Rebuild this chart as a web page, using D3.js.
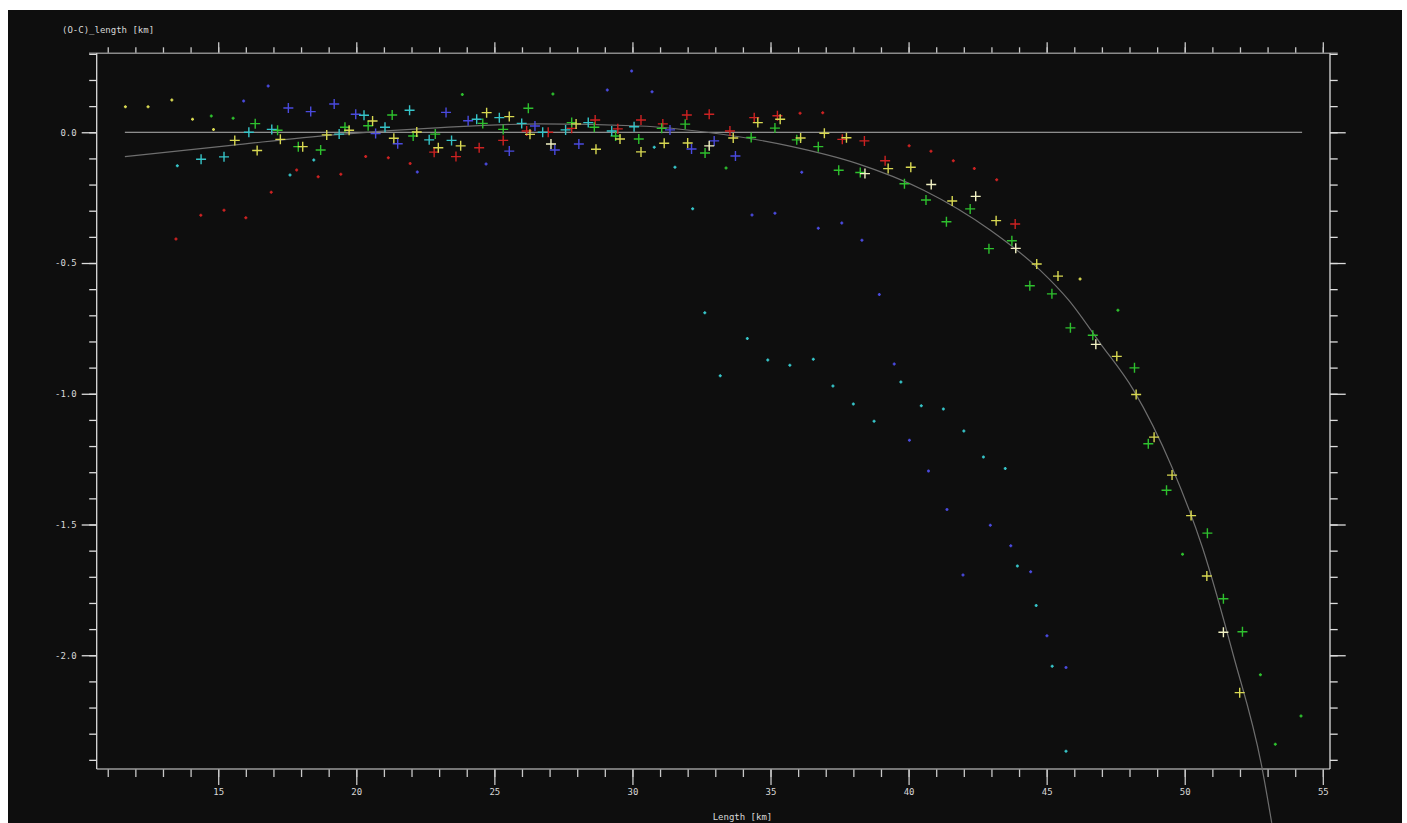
<!DOCTYPE html>
<html>
<head>
<meta charset="utf-8">
<script src="https://cdn.jsdelivr.net/npm/d3@7"></script>
<style>
  html, body { margin: 0; padding: 0; background: #ffffff; }
  svg { display: block; }
  text { font-family: "DejaVu Sans Mono", "Liberation Mono", monospace; font-size: 9px; fill: #d8d8d8; }
</style>
</head>
<body>
<svg id="chart" width="1407" height="823"></svg>
<script>
// ---- axis settings ----
const xDomain = [10.6, 55.26];
const yDomain = [0.302, -2.435];
const xMajorTicks = [15, 20, 25, 30, 35, 40, 45, 50, 55];
const yMajorTicks = [0.0, -0.5, -1.0, -1.5, -2.0];
const xTitle = "Length [km]";
const yTitle = "(O-C)_length [km]";

// ---- fitted curve (km, km) ----
const fitCurve = [
  [11.62, -0.093], [15.55, -0.049], [19.17, -0.010], [23.20, 0.019], [26.65, 0.032],
  [30.27, 0.024], [32.69, 0.000], [35.70, -0.053], [38.12, -0.119], [40.53, -0.221],
  [42.95, -0.374], [44.76, -0.527], [45.79, -0.641], [46.94, -0.807], [48.14, -0.985],
  [49.53, -1.279], [50.65, -1.591], [51.76, -2.000], [52.79, -2.426], [53.15, -2.641]
];
const zeroLine = [11.62, 54.25];

// ---- station residuals: crosses (used) and dots (rejected) ----
const redCross = [
  [22.82,-0.076],[23.61,-0.093],[24.45,-0.059],[25.32,-0.031],[26.17,0.005],[26.95,0.000],
  [27.80,0.015],[28.65,0.047],[29.47,0.013],[30.31,0.047],[31.10,0.032],[31.97,0.066],
  [32.78,0.069],[33.53,0.005],[34.41,0.056],[35.25,0.063],[37.60,-0.027],[38.40,-0.033],
  [39.15,-0.109],[43.86,-0.351]
];
const redDot = [
  [13.47,-0.408],[14.37,-0.317],[15.21,-0.298],[16.00,-0.327],[16.92,-0.229],[17.84,-0.144],
  [18.62,-0.170],[19.44,-0.161],[20.34,-0.093],[21.16,-0.097],[21.95,-0.119],[36.07,0.073],
  [36.89,0.075],[40.02,-0.052],[40.81,-0.073],[41.62,-0.109],[42.38,-0.139],[43.19,-0.182]
];
const greenCross = [
  [16.34,0.033],[17.15,0.008],[17.90,-0.055],[18.71,-0.068],[19.59,0.019],[20.43,0.025],
  [21.30,0.066],[22.06,-0.014],[22.86,-0.007],[24.58,0.034],[25.32,0.011],[26.23,0.092],
  [27.80,0.037],[28.62,0.019],[29.39,-0.014],[30.23,-0.026],[31.06,0.015],[31.91,0.031],
  [32.63,-0.079],[34.30,-0.020],[35.16,0.016],[35.95,-0.029],[36.73,-0.055],[37.47,-0.145],
  [38.25,-0.154],[39.85,-0.197],[40.63,-0.259],[41.37,-0.342],[42.23,-0.293],[42.91,-0.445],
  [43.74,-0.415],[44.39,-0.587],[45.19,-0.618],[45.86,-0.748],[46.67,-0.776],[48.18,-0.901],
  [48.68,-1.191],[49.34,-1.369],[50.82,-1.533],[51.40,-1.784],[52.09,-1.910]
];
const greenDot = [
  [14.75,0.062],[15.54,0.054],[23.84,0.144],[27.12,0.146],[33.39,-0.137],[47.58,-0.681],
  [49.92,-1.614],[52.74,-2.075],[53.28,-2.340],[54.21,-2.232]
];
const blueCross = [
  [17.54,0.093],[18.35,0.079],[19.20,0.108],[19.98,0.069],[20.70,-0.005],[21.50,-0.044],
  [23.25,0.076],[24.05,0.044],[25.54,-0.072],[26.47,0.024],[27.19,-0.068],[28.06,-0.045],
  [31.36,0.009],[32.14,-0.064],[32.96,-0.033],[33.73,-0.091]
];
const blueDot = [
  [15.92,0.120],[16.81,0.177],[22.21,-0.152],[24.70,-0.121],[29.09,0.162],[29.97,0.234],
  [30.71,0.155],[34.33,-0.316],[35.16,-0.310],[36.13,-0.153],[36.73,-0.367],[37.58,-0.347],
  [38.31,-0.413],[38.94,-0.620],[39.48,-0.886],[40.03,-1.178],[40.72,-1.295],[41.39,-1.443],
  [41.97,-1.693],[42.96,-1.503],[43.70,-1.581],[44.42,-1.681],[45.01,-1.925],[45.70,-2.047]
];
const cyanCross = [
  [14.38,-0.103],[15.21,-0.094],[16.11,0.000],[16.94,0.011],[19.38,-0.007],[20.28,0.065],
  [21.04,0.019],[21.93,0.084],[22.64,-0.029],[23.45,-0.031],[24.36,0.050],[25.18,0.056],
  [25.99,0.034],[26.75,0.000],[27.58,0.009],[28.40,0.037],[29.25,0.005],[30.06,0.021]
];
const cyanDot = [
  [13.52,-0.128],[17.60,-0.163],[18.46,-0.106],[30.79,-0.057],[31.54,-0.134],[32.18,-0.292],
  [32.62,-0.690],[33.18,-0.931],[34.16,-0.789],[34.90,-0.871],[35.70,-0.891],[36.55,-0.868],
  [37.26,-0.970],[38.00,-1.039],[38.75,-1.105],[39.72,-0.955],[40.46,-1.046],[41.26,-1.058],
  [42.00,-1.142],[42.71,-1.242],[43.50,-1.286],[43.94,-1.659],[44.62,-1.810],[45.20,-2.042],
  [45.70,-2.367]
];
const yellowCross = [
  [15.60,-0.031],[16.41,-0.070],[17.25,-0.027],[18.06,-0.055],[18.93,-0.010],[19.74,0.008],
  [20.59,0.043],[21.36,-0.023],[22.19,0.001],[22.97,-0.059],[23.78,-0.052],[24.72,0.075],
  [25.54,0.060],[26.29,-0.008],[27.96,0.032],[28.68,-0.065],[29.55,-0.026],[30.31,-0.075],
  [31.15,-0.042],[32.00,-0.041],[33.65,-0.022],[34.54,0.037],[35.35,0.050],[36.09,-0.022],
  [36.95,-0.004],[37.75,-0.021],[39.26,-0.139],[40.08,-0.134],[41.58,-0.263],[43.17,-0.338],
  [44.64,-0.504],[45.41,-0.550],[47.54,-0.857],[48.24,-1.003],[48.89,-1.166],[49.54,-1.311],
  [50.23,-1.466],[50.80,-1.697],[51.99,-2.143]
];
const yellowDot = [
  [11.64,0.098],[12.46,0.098],[13.32,0.123],[14.07,0.050],[14.83,0.011],[46.21,-0.561]
];
const whiteCross = [
  [27.05,-0.045],[32.78,-0.052],[38.42,-0.158],[40.82,-0.200],[42.43,-0.245],[43.88,-0.444],
  [46.78,-0.811],[51.40,-1.912]
];

const series = [
  { name: "red",    color: "#cc2222", cross: redCross,    dot: redDot },
  { name: "green",  color: "#2ec02e", cross: greenCross,  dot: greenDot },
  { name: "blue",   color: "#4a4ade", cross: blueCross,   dot: blueDot },
  { name: "cyan",   color: "#36c4c8", cross: cyanCross,   dot: cyanDot },
  { name: "yellow", color: "#d8d852", cross: yellowCross, dot: yellowDot },
  { name: "white",  color: "#f2f2c4", cross: whiteCross,  dot: [] }
];

// ---- layout ----
const svg = d3.select("#chart");
const plot = { left: 96.7, right: 1330, top: 53.3, bottom: 769 };

svg.append("rect")
  .attr("x", 8).attr("y", 10)
  .attr("width", 1394).attr("height", 813)
  .attr("fill", "#0e0e0e");

const x = d3.scaleLinear().domain(xDomain).range([plot.left, plot.right]);
const y = d3.scaleLinear().domain(yDomain).range([plot.top, plot.bottom]);

const xMinorTicks = d3.range(11, 56, 1);
const yMinorTicks = d3.range(-24, 4, 1).map(v => v / 10);
const fmtY = v => v.toFixed(1);

function styleAxis(g, color) {
  g.selectAll("path.domain").remove();
  g.selectAll(".tick line").attr("stroke", color).attr("stroke-width", 1.3);
  g.selectAll(".tick text")
    .attr("fill", "#d8d8d8")
    .style("font-family", '"DejaVu Sans Mono", "Liberation Mono", monospace')
    .style("font-size", "9px");
}

// bottom axis
svg.append("g").attr("transform", `translate(0,${plot.bottom})`)
  .call(d3.axisBottom(x).tickValues(xMinorTicks).tickSize(8).tickFormat(""))
  .call(g => styleAxis(g, "#c8c8c8"));
svg.append("g").attr("transform", `translate(0,${plot.bottom})`)
  .call(d3.axisBottom(x).tickValues(xMajorTicks).tickSize(16).tickPadding(4).tickFormat(d3.format("d")))
  .call(g => styleAxis(g, "#c8c8c8"));

// top axis
svg.append("g").attr("transform", `translate(0,${plot.top})`)
  .call(d3.axisTop(x).tickValues(xMinorTicks).tickSize(6).tickFormat(""))
  .call(g => styleAxis(g, "#c8c8c8"));
svg.append("g").attr("transform", `translate(0,${plot.top})`)
  .call(d3.axisTop(x).tickValues(xMajorTicks).tickSize(11).tickFormat(""))
  .call(g => styleAxis(g, "#c8c8c8"));

// left axis
svg.append("g").attr("transform", `translate(${plot.left},0)`)
  .call(d3.axisLeft(y).tickValues(yMinorTicks).tickSize(7.5).tickFormat(""))
  .call(g => styleAxis(g, "#dcdcdc"));
svg.append("g").attr("transform", `translate(${plot.left},0)`)
  .call(d3.axisLeft(y).tickValues(yMajorTicks).tickSize(15).tickPadding(5).tickFormat(fmtY))
  .call(g => styleAxis(g, "#dcdcdc"));

// right axis
svg.append("g").attr("transform", `translate(${plot.right},0)`)
  .call(d3.axisRight(y).tickValues(yMinorTicks).tickSize(7.7).tickFormat(""))
  .call(g => styleAxis(g, "#dcdcdc"));
svg.append("g").attr("transform", `translate(${plot.right},0)`)
  .call(d3.axisRight(y).tickValues(yMajorTicks).tickSize(15.7).tickFormat(""))
  .call(g => styleAxis(g, "#dcdcdc"));

// frame lines
svg.append("line")
  .attr("x1", plot.left - 7.7).attr("x2", plot.right + 7.7)
  .attr("y1", plot.top).attr("y2", plot.top)
  .attr("stroke", "#8a8a8a").attr("stroke-width", 1.6);
svg.append("line")
  .attr("x1", plot.left).attr("x2", plot.right)
  .attr("y1", plot.bottom).attr("y2", plot.bottom)
  .attr("stroke", "#9a9a9a").attr("stroke-width", 1.6);
svg.append("line")
  .attr("x1", plot.left).attr("x2", plot.left)
  .attr("y1", plot.top).attr("y2", plot.bottom)
  .attr("stroke", "#dcdcdc").attr("stroke-width", 1.3);
svg.append("line")
  .attr("x1", plot.right).attr("x2", plot.right)
  .attr("y1", plot.top).attr("y2", plot.bottom)
  .attr("stroke", "#dcdcdc").attr("stroke-width", 1.3);

// titles
svg.append("text").attr("x", 62).attr("y", 32.5).text(yTitle);
svg.append("text").attr("x", 742.5).attr("y", 820).attr("text-anchor", "middle").text(xTitle);

// zero reference line
svg.append("line")
  .attr("x1", x(zeroLine[0])).attr("x2", x(zeroLine[1]))
  .attr("y1", y(0)).attr("y2", y(0))
  .attr("stroke", "#b4b4b4").attr("stroke-width", 1);

// fitted curve
svg.append("path")
  .datum(fitCurve)
  .attr("fill", "none")
  .attr("stroke", "#6e6e6e")
  .attr("stroke-width", 1.2)
  .attr("d", d3.line().x(d => x(d[0])).y(d => y(d[1])).curve(d3.curveMonotoneX));

// markers
function crossPath(px, py, r) {
  return `M${px - r},${py}H${px + r}M${px},${py - r}V${py + r}`;
}

const gDots = svg.append("g");
const gCross = svg.append("g");
series.forEach(s => {
  gDots.selectAll(null)
    .data(s.dot)
    .join("path")
    .attr("d", d => crossPath(x(d[0]), y(d[1]), 1.5))
    .attr("stroke", s.color)
    .attr("stroke-width", 1.5);
  gCross.selectAll(null)
    .data(s.cross)
    .join("path")
    .attr("d", d => crossPath(x(d[0]), y(d[1]), 5))
    .attr("stroke", s.color)
    .attr("stroke-width", 1.4);
});
</script>
</body>
</html>
